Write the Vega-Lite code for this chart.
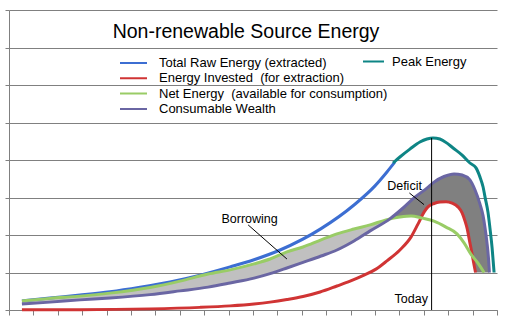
{
  "$schema": "https://vega.github.io/schema/vega-lite/v6.json",
  "width": 488,
  "height": 300,
  "autosize": {"type": "none"},
  "padding": {"left": 9, "top": 10, "right": 11, "bottom": 18},
  "background": "white",
  "config": {"view": {"stroke": null}, "font": "Liberation Sans"},
  "title": {"text": "Non-renewable Source Energy", "fontSize": 19.5, "font": "Liberation Sans", "fontWeight": "normal", "color": "black", "anchor": "middle", "offset": 0, "baseline": "alphabetic", "dy": 48, "dx": -7},
  "datasets": {
    "borrow": [
      {"x": 0.53, "lo": 0.16, "hi": 0.24},
      {"x": 1.68, "lo": 0.21, "hi": 0.31},
      {"x": 2.91, "lo": 0.27, "hi": 0.37},
      {"x": 4.14, "lo": 0.32, "hi": 0.45},
      {"x": 5.78, "lo": 0.41, "hi": 0.60},
      {"x": 7.01, "lo": 0.51, "hi": 0.77},
      {"x": 8.16, "lo": 0.61, "hi": 0.96},
      {"x": 9.06, "lo": 0.72, "hi": 1.07},
      {"x": 10.04, "lo": 0.85, "hi": 1.23},
      {"x": 10.70, "lo": 0.97, "hi": 1.36},
      {"x": 11.39, "lo": 1.12, "hi": 1.55},
      {"x": 12.05, "lo": 1.27, "hi": 1.68},
      {"x": 12.79, "lo": 1.44, "hi": 1.87},
      {"x": 13.44, "lo": 1.60, "hi": 2.03},
      {"x": 14.14, "lo": 1.84, "hi": 2.16},
      {"x": 14.80, "lo": 2.11, "hi": 2.27},
      {"x": 15.61, "lo": 2.43, "hi": 2.43}
    ],
    "deficit": [
      {"x": 15.61, "lo": 2.43, "hi": 2.43},
      {"x": 16.02, "lo": 2.48, "hi": 2.66},
      {"x": 16.48, "lo": 2.51, "hi": 2.92},
      {"x": 16.76, "lo": 2.47, "hi": 3.07},
      {"x": 16.93, "lo": 2.51, "hi": 3.15},
      {"x": 17.01, "lo": 2.61, "hi": 3.19},
      {"x": 17.17, "lo": 2.75, "hi": 3.28},
      {"x": 17.42, "lo": 2.84, "hi": 3.41},
      {"x": 17.66, "lo": 2.88, "hi": 3.50},
      {"x": 17.91, "lo": 2.89, "hi": 3.58},
      {"x": 18.16, "lo": 2.85, "hi": 3.61},
      {"x": 18.40, "lo": 2.75, "hi": 3.61},
      {"x": 18.57, "lo": 2.59, "hi": 3.60},
      {"x": 18.69, "lo": 2.37, "hi": 3.55},
      {"x": 18.77, "lo": 2.19, "hi": 3.52},
      {"x": 18.89, "lo": 1.79, "hi": 3.47},
      {"x": 18.98, "lo": 1.49, "hi": 3.36},
      {"x": 19.06, "lo": 1.20, "hi": 3.25},
      {"x": 19.12, "lo": 1.00, "hi": 3.16},
      {"x": 19.30, "lo": 1.00, "hi": 2.83},
      {"x": 19.43, "lo": 1.00, "hi": 2.51},
      {"x": 19.51, "lo": 1.00, "hi": 2.19},
      {"x": 19.59, "lo": 1.00, "hi": 1.79},
      {"x": 19.65, "lo": 1.00, "hi": 1.39},
      {"x": 19.69, "lo": 1.00, "hi": 1.00}
    ],
    "lines": [
      {"series": "Total Raw Energy (extracted)", "x": 0.53, "y": 0.24},
      {"series": "Total Raw Energy (extracted)", "x": 1.68, "y": 0.32},
      {"series": "Total Raw Energy (extracted)", "x": 2.91, "y": 0.40},
      {"series": "Total Raw Energy (extracted)", "x": 4.14, "y": 0.49},
      {"series": "Total Raw Energy (extracted)", "x": 5.37, "y": 0.61},
      {"series": "Total Raw Energy (extracted)", "x": 6.60, "y": 0.75},
      {"series": "Total Raw Energy (extracted)", "x": 7.83, "y": 0.93},
      {"series": "Total Raw Energy (extracted)", "x": 9.06, "y": 1.15},
      {"series": "Total Raw Energy (extracted)", "x": 10.04, "y": 1.34},
      {"series": "Total Raw Energy (extracted)", "x": 11.11, "y": 1.60},
      {"series": "Total Raw Energy (extracted)", "x": 12.79, "y": 2.17},
      {"series": "Total Raw Energy (extracted)", "x": 14.14, "y": 2.80},
      {"series": "Total Raw Energy (extracted)", "x": 15.00, "y": 3.31},
      {"series": "Total Raw Energy (extracted)", "x": 15.49, "y": 3.68},
      {"series": "Total Raw Energy (extracted)", "x": 15.82, "y": 3.95},

      {"series": "Energy Invested  (for extraction)", "x": 0.53, "y": 0.01},
      {"series": "Energy Invested  (for extraction)", "x": 2.91, "y": 0.01},
      {"series": "Energy Invested  (for extraction)", "x": 5.78, "y": 0.03},
      {"series": "Energy Invested  (for extraction)", "x": 7.83, "y": 0.07},
      {"series": "Energy Invested  (for extraction)", "x": 9.06, "y": 0.11},
      {"series": "Energy Invested  (for extraction)", "x": 10.04, "y": 0.16},
      {"series": "Energy Invested  (for extraction)", "x": 10.70, "y": 0.21},
      {"series": "Energy Invested  (for extraction)", "x": 11.39, "y": 0.28},
      {"series": "Energy Invested  (for extraction)", "x": 12.05, "y": 0.36},
      {"series": "Energy Invested  (for extraction)", "x": 12.75, "y": 0.48},
      {"series": "Energy Invested  (for extraction)", "x": 13.44, "y": 0.64},
      {"series": "Energy Invested  (for extraction)", "x": 13.98, "y": 0.77},
      {"series": "Energy Invested  (for extraction)", "x": 14.55, "y": 0.93},
      {"series": "Energy Invested  (for extraction)", "x": 15.04, "y": 1.09},
      {"series": "Energy Invested  (for extraction)", "x": 15.49, "y": 1.31},
      {"series": "Energy Invested  (for extraction)", "x": 16.02, "y": 1.60},
      {"series": "Energy Invested  (for extraction)", "x": 16.48, "y": 1.95},
      {"series": "Energy Invested  (for extraction)", "x": 16.76, "y": 2.29},
      {"series": "Energy Invested  (for extraction)", "x": 17.01, "y": 2.61},
      {"series": "Energy Invested  (for extraction)", "x": 17.17, "y": 2.75},
      {"series": "Energy Invested  (for extraction)", "x": 17.42, "y": 2.84},
      {"series": "Energy Invested  (for extraction)", "x": 17.66, "y": 2.88},
      {"series": "Energy Invested  (for extraction)", "x": 17.91, "y": 2.89},
      {"series": "Energy Invested  (for extraction)", "x": 18.16, "y": 2.85},
      {"series": "Energy Invested  (for extraction)", "x": 18.40, "y": 2.75},
      {"series": "Energy Invested  (for extraction)", "x": 18.57, "y": 2.59},
      {"series": "Energy Invested  (for extraction)", "x": 18.69, "y": 2.37},
      {"series": "Energy Invested  (for extraction)", "x": 18.77, "y": 2.19},
      {"series": "Energy Invested  (for extraction)", "x": 18.89, "y": 1.79},
      {"series": "Energy Invested  (for extraction)", "x": 18.98, "y": 1.49},
      {"series": "Energy Invested  (for extraction)", "x": 19.06, "y": 1.20},
      {"series": "Energy Invested  (for extraction)", "x": 19.12, "y": 1.00},

      {"series": "Net Energy  (available for consumption)", "x": 0.53, "y": 0.24},
      {"series": "Net Energy  (available for consumption)", "x": 1.68, "y": 0.31},
      {"series": "Net Energy  (available for consumption)", "x": 2.91, "y": 0.37},
      {"series": "Net Energy  (available for consumption)", "x": 4.14, "y": 0.45},
      {"series": "Net Energy  (available for consumption)", "x": 5.78, "y": 0.60},
      {"series": "Net Energy  (available for consumption)", "x": 7.01, "y": 0.77},
      {"series": "Net Energy  (available for consumption)", "x": 8.16, "y": 0.96},
      {"series": "Net Energy  (available for consumption)", "x": 9.06, "y": 1.07},
      {"series": "Net Energy  (available for consumption)", "x": 10.04, "y": 1.23},
      {"series": "Net Energy  (available for consumption)", "x": 10.70, "y": 1.36},
      {"series": "Net Energy  (available for consumption)", "x": 11.39, "y": 1.55},
      {"series": "Net Energy  (available for consumption)", "x": 12.05, "y": 1.68},
      {"series": "Net Energy  (available for consumption)", "x": 12.79, "y": 1.87},
      {"series": "Net Energy  (available for consumption)", "x": 13.44, "y": 2.03},
      {"series": "Net Energy  (available for consumption)", "x": 14.14, "y": 2.16},
      {"series": "Net Energy  (available for consumption)", "x": 14.80, "y": 2.27},
      {"series": "Net Energy  (available for consumption)", "x": 15.49, "y": 2.41},
      {"series": "Net Energy  (available for consumption)", "x": 16.02, "y": 2.48},
      {"series": "Net Energy  (available for consumption)", "x": 16.48, "y": 2.51},
      {"series": "Net Energy  (available for consumption)", "x": 16.93, "y": 2.45},
      {"series": "Net Energy  (available for consumption)", "x": 17.42, "y": 2.37},
      {"series": "Net Energy  (available for consumption)", "x": 17.91, "y": 2.21},
      {"series": "Net Energy  (available for consumption)", "x": 18.36, "y": 2.03},
      {"series": "Net Energy  (available for consumption)", "x": 18.65, "y": 1.79},
      {"series": "Net Energy  (available for consumption)", "x": 18.93, "y": 1.49},
      {"series": "Net Energy  (available for consumption)", "x": 19.22, "y": 1.25},
      {"series": "Net Energy  (available for consumption)", "x": 19.47, "y": 1.00},

      {"series": "Consumable Wealth", "x": 0.53, "y": 0.16},
      {"series": "Consumable Wealth", "x": 1.68, "y": 0.21},
      {"series": "Consumable Wealth", "x": 2.91, "y": 0.27},
      {"series": "Consumable Wealth", "x": 4.14, "y": 0.32},
      {"series": "Consumable Wealth", "x": 5.78, "y": 0.41},
      {"series": "Consumable Wealth", "x": 7.01, "y": 0.51},
      {"series": "Consumable Wealth", "x": 8.16, "y": 0.61},
      {"series": "Consumable Wealth", "x": 9.06, "y": 0.72},
      {"series": "Consumable Wealth", "x": 10.04, "y": 0.85},
      {"series": "Consumable Wealth", "x": 10.70, "y": 0.97},
      {"series": "Consumable Wealth", "x": 11.39, "y": 1.12},
      {"series": "Consumable Wealth", "x": 12.05, "y": 1.27},
      {"series": "Consumable Wealth", "x": 12.79, "y": 1.44},
      {"series": "Consumable Wealth", "x": 13.44, "y": 1.60},
      {"series": "Consumable Wealth", "x": 14.14, "y": 1.84},
      {"series": "Consumable Wealth", "x": 14.80, "y": 2.11},
      {"series": "Consumable Wealth", "x": 15.61, "y": 2.43},
      {"series": "Consumable Wealth", "x": 16.15, "y": 2.72},
      {"series": "Consumable Wealth", "x": 16.60, "y": 2.99},
      {"series": "Consumable Wealth", "x": 17.13, "y": 3.25},
      {"series": "Consumable Wealth", "x": 17.42, "y": 3.41},
      {"series": "Consumable Wealth", "x": 17.83, "y": 3.56},
      {"series": "Consumable Wealth", "x": 18.24, "y": 3.63},
      {"series": "Consumable Wealth", "x": 18.57, "y": 3.60},
      {"series": "Consumable Wealth", "x": 18.89, "y": 3.47},
      {"series": "Consumable Wealth", "x": 19.10, "y": 3.20},
      {"series": "Consumable Wealth", "x": 19.30, "y": 2.83},
      {"series": "Consumable Wealth", "x": 19.43, "y": 2.51},
      {"series": "Consumable Wealth", "x": 19.51, "y": 2.19},
      {"series": "Consumable Wealth", "x": 19.59, "y": 1.79},
      {"series": "Consumable Wealth", "x": 19.65, "y": 1.39},
      {"series": "Consumable Wealth", "x": 19.69, "y": 1.00}
    ],
    "peak": [
      {"series": "Peak Energy", "x": 15.74, "y": 3.92},
      {"series": "Peak Energy", "x": 16.02, "y": 4.08},
      {"series": "Peak Energy", "x": 16.43, "y": 4.29},
      {"series": "Peak Energy", "x": 16.84, "y": 4.48},
      {"series": "Peak Energy", "x": 17.13, "y": 4.56},
      {"series": "Peak Energy", "x": 17.38, "y": 4.59},
      {"series": "Peak Energy", "x": 17.66, "y": 4.56},
      {"series": "Peak Energy", "x": 17.95, "y": 4.45},
      {"series": "Peak Energy", "x": 18.20, "y": 4.32},
      {"series": "Peak Energy", "x": 18.57, "y": 4.13},
      {"series": "Peak Energy", "x": 18.89, "y": 3.92},
      {"series": "Peak Energy", "x": 19.14, "y": 3.79},
      {"series": "Peak Energy", "x": 19.30, "y": 3.55},
      {"series": "Peak Energy", "x": 19.43, "y": 3.28},
      {"series": "Peak Energy", "x": 19.51, "y": 3.01},
      {"series": "Peak Energy", "x": 19.63, "y": 2.61},
      {"series": "Peak Energy", "x": 19.71, "y": 2.19},
      {"series": "Peak Energy", "x": 19.80, "y": 1.65},
      {"series": "Peak Energy", "x": 19.84, "y": 1.33},
      {"series": "Peak Energy", "x": 19.88, "y": 1.00}
    ],
    "today": [
      {"x": 17.32, "y": 0, "y2": 4.59}
    ],
    "pointers": [
      {"note": "Borrowing", "x": 9.80, "y": 2.27, "x2": 11.39, "y2": 1.36},
      {"note": "Deficit", "x": 16.41, "y": 3.12, "x2": 17.01, "y2": 2.81}
    ],
    "notes": [
      {"label": "Borrowing", "x": 9.86, "y": 2.32},
      {"label": "Deficit", "x": 16.21, "y": 3.2}
    ],
    "todayLabel": [
      {"label": "Today", "x": 17.17, "y": 0.19}
    ]
  },
  "layer": [
    {
      "data": {"name": "borrow"},
      "mark": {"type": "area", "color": "#C0C0C0", "interpolate": "monotone"},
      "encoding": {
        "x": {"field": "x", "type": "quantitative", "scale": {"domain": [0, 20], "nice": false, "zero": false},
              "axis": {"title": null, "labels": false, "grid": false, "values": [0,1,2,3,4,5,6,7,8,9,10,11,12,13,14,15,16,17,18,19,20], "tickCount": 21, "tickSize": 5, "tickColor": "#808080", "domainColor": "#808080"}},
        "y": {"field": "lo", "type": "quantitative", "scale": {"domain": [0, 8], "nice": false},
              "axis": {"title": null, "labels": false, "grid": true, "gridColor": "#808080", "gridOpacity": 1, "values": [0,1,2,3,4,5,6,7,8], "tickCount": 9, "tickSize": 4, "tickColor": "#808080", "domainColor": "#808080"}},
        "y2": {"field": "hi"}
      }
    },
    {
      "data": {"name": "deficit"},
      "mark": {"type": "area", "color": "#808080", "interpolate": "monotone"},
      "encoding": {
        "x": {"field": "x", "type": "quantitative"},
        "y": {"field": "lo", "type": "quantitative"},
        "y2": {"field": "hi"}
      }
    },
    {
      "data": {"name": "lines"},
      "mark": {"type": "line", "strokeWidth": 3, "interpolate": "monotone"},
      "encoding": {
        "x": {"field": "x", "type": "quantitative"},
        "y": {"field": "y", "type": "quantitative"},
        "color": {"field": "series", "type": "nominal",
          "scale": {"domain": ["Total Raw Energy (extracted)", "Energy Invested  (for extraction)", "Net Energy  (available for consumption)", "Consumable Wealth"],
                    "range": ["#3C6ED2", "#D03434", "#99CC66", "#6A66A3"]},
          "legend": {"title": null, "orient": "none", "legendX": 110, "legendY": 47, "padding": 0, "symbolType": "stroke", "symbolSize": 729, "symbolStrokeWidth": 2, "labelFontSize": 13, "labelFont": "Liberation Sans", "labelColor": "black", "labelOffset": 11, "clipHeight": 12, "rowPadding": 2.3, "labelLimit": 400,
            "labelExpr": "replace(datum.label, '  ', '\u00a0 ')"}}
      }
    },
    {
      "data": {"name": "peak"},
      "mark": {"type": "line", "strokeWidth": 3, "interpolate": "monotone"},
      "encoding": {
        "x": {"field": "x", "type": "quantitative"},
        "y": {"field": "y", "type": "quantitative"},
        "color": {"field": "series", "type": "nominal",
          "scale": {"domain": ["Peak Energy"], "range": ["#0E8585"]},
          "legend": {"title": null, "orient": "none", "legendX": 353, "legendY": 45, "padding": 0, "symbolType": "stroke", "symbolSize": 441, "symbolStrokeWidth": 2, "labelFontSize": 13, "labelFont": "Liberation Sans", "labelColor": "black", "labelOffset": 7, "clipHeight": 13, "labelLimit": 400}}
      }
    },
    {
      "data": {"name": "today"},
      "mark": {"type": "rule", "color": "black", "strokeWidth": 1},
      "encoding": {
        "x": {"field": "x", "type": "quantitative"},
        "y": {"field": "y", "type": "quantitative"},
        "y2": {"field": "y2"}
      }
    },
    {
      "data": {"name": "pointers"},
      "mark": {"type": "rule", "color": "black", "strokeWidth": 1},
      "encoding": {
        "x": {"field": "x", "type": "quantitative"},
        "y": {"field": "y", "type": "quantitative"},
        "x2": {"field": "x2"},
        "y2": {"field": "y2"}
      }
    },
    {
      "data": {"name": "notes"},
      "mark": {"type": "text", "align": "center", "baseline": "alphabetic", "fontSize": 12.5, "font": "Liberation Sans", "color": "black"},
      "encoding": {
        "x": {"field": "x", "type": "quantitative"},
        "y": {"field": "y", "type": "quantitative"},
        "text": {"field": "label"}
      }
    },
    {
      "data": {"name": "todayLabel"},
      "mark": {"type": "text", "align": "right", "baseline": "alphabetic", "fontSize": 12.5, "font": "Liberation Sans", "color": "black"},
      "encoding": {
        "x": {"field": "x", "type": "quantitative"},
        "y": {"field": "y", "type": "quantitative"},
        "text": {"field": "label"}
      }
    }
  ],
  "resolve": {"scale": {"color": "independent"}}
}
